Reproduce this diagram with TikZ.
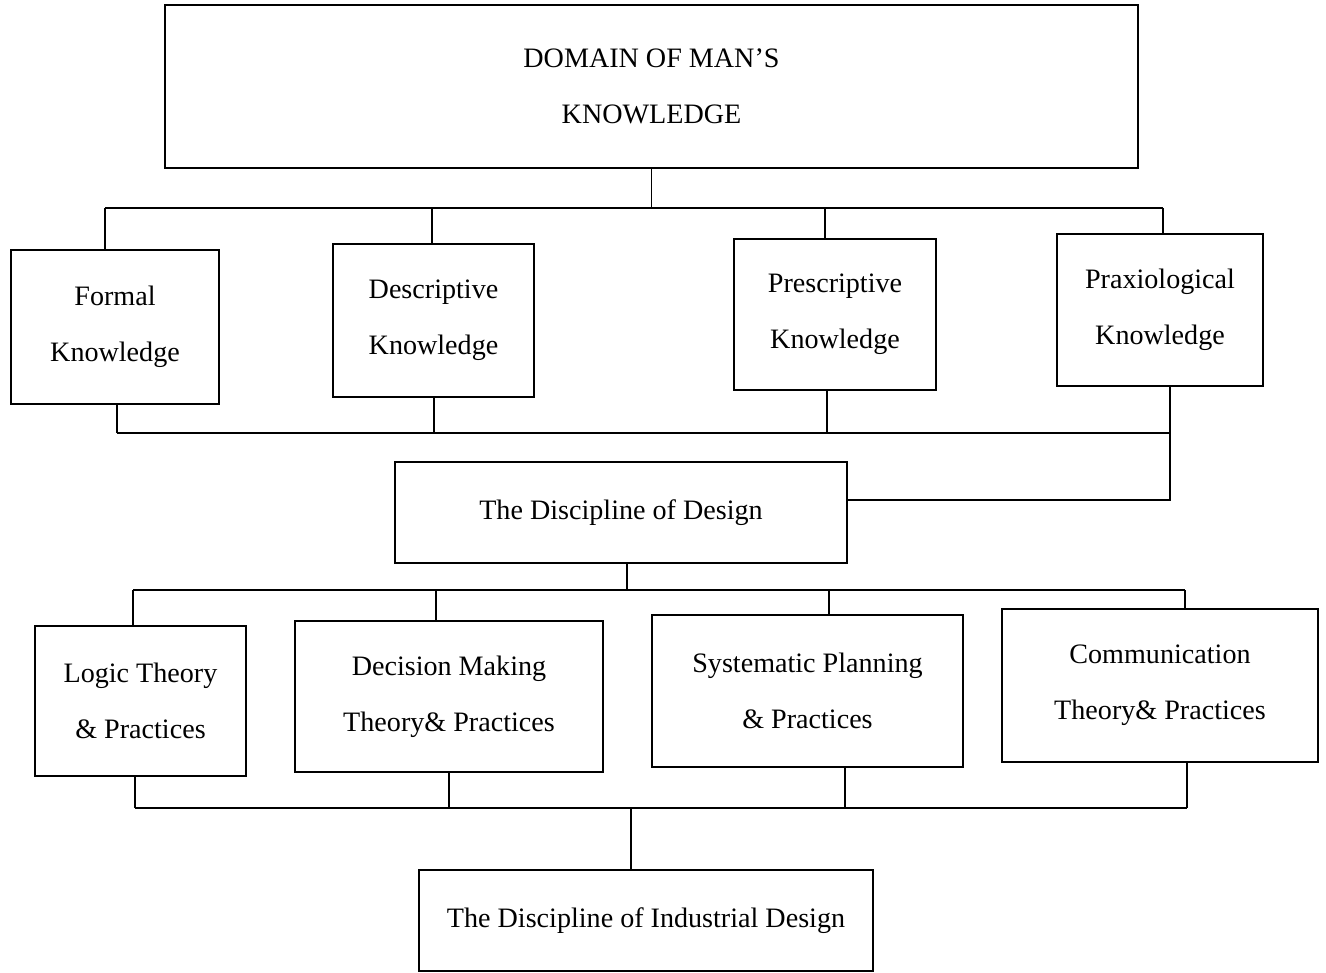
\documentclass[tikz,border=0pt]{standalone}
\usepackage{fontspec}
\setmainfont{Liberation Serif}
\usetikzlibrary{positioning}

\begin{document}
\begin{tikzpicture}[
  x=0.02cm, y=-0.02cm,
  every node/.style={font=\fontsize{16}{32}\selectfont},
  box/.style={draw, line width=0.8pt, align=center, inner sep=4pt},
  link/.style={line width=0.8pt}
]
\useasboundingbox (0,0) rectangle (1326,973);

% Root
\node[box, minimum width=19.46cm, minimum height=3.26cm] (domain) at (651.5,86.5) {DOMAIN OF MAN'S\\KNOWLEDGE};

% Kinds of knowledge
\node[box, minimum width=4.16cm, minimum height=3.08cm] (formal) at (115,327) {Formal\\Knowledge};
\node[box, minimum width=4.02cm, minimum height=3.06cm] (descr) at (433.5,320.5) {Descriptive\\Knowledge};
\node[box, minimum width=4.04cm, minimum height=3.02cm] (presc) at (835,314.5) {Prescriptive\\Knowledge};
\node[box, minimum width=4.12cm, minimum height=3.04cm] (praxis) at (1160,310) {Praxiological\\Knowledge};

% Design
\node[box, minimum width=9.04cm, minimum height=2.02cm] (design) at (621,512.5) {The Discipline of Design};

% Theories and practices
\node[box, minimum width=4.22cm, minimum height=3.0cm] (logic) at (140.5,701) {Logic Theory\\\& Practices};
\node[box, minimum width=6.16cm, minimum height=3.02cm] (decision) at (449,696.5) {Decision Making\\Theory\& Practices};
\node[box, minimum width=6.22cm, minimum height=3.04cm] (system) at (807.5,691) {Systematic Planning\\\& Practices};
\node[box, minimum width=6.32cm, minimum height=3.06cm] (comm) at (1160,685.5) {Communication\\Theory\& Practices};

% Output
\node[box, minimum width=9.08cm, minimum height=2.02cm] (industrial) at (646,920.5) {The Discipline of Industrial Design};

% Bus points
\coordinate (t1) at (105,208);  \coordinate (t2) at (432,208);
\coordinate (t3) at (825,208);  \coordinate (t4) at (1163,208);
\coordinate (u1) at (117,433);  \coordinate (u2) at (434,433);
\coordinate (u3) at (827,433);  \coordinate (u4) at (1170,433);
\coordinate (r1) at (1170,500);
\coordinate (d0) at (627,590);
\coordinate (v1) at (133,590);  \coordinate (v2) at (436,590);
\coordinate (v3) at (829,590);  \coordinate (v4) at (1185,590);
\coordinate (w1) at (135,808);  \coordinate (w2) at (449,808);
\coordinate (w3) at (845,808);  \coordinate (w4) at (1187,808);
\coordinate (w0) at (631,808);

% Domain to knowledge
\draw[link] (domain.south) -- (domain.south |- t1);
\draw[link] (t1) -- (t4);
\foreach \p/\n in {t1/formal, t2/descr, t3/presc, t4/praxis}
  \draw[link] (\p) -- (\p |- \n.north);

% Knowledge to design
\draw[link] (u1) -- (u4);
\foreach \p/\n in {u1/formal, u2/descr, u3/presc}
  \draw[link] (\p) -- (\p |- \n.south);
\draw[link] (u4 |- praxis.south) -- (r1) -- (r1 -| design.east);

% Design to theories
\draw[link] (d0 |- design.south) -- (d0);
\draw[link] (v1) -- (v4);
\foreach \p/\n in {v1/logic, v2/decision, v3/system, v4/comm}
  \draw[link] (\p) -- (\p |- \n.north);

% Theories to industrial design
\draw[link] (w1) -- (w4);
\foreach \p/\n in {w1/logic, w2/decision, w3/system, w4/comm}
  \draw[link] (\p) -- (\p |- \n.south);
\draw[link] (w0) -- (w0 |- industrial.north);

\end{tikzpicture}
\end{document}
